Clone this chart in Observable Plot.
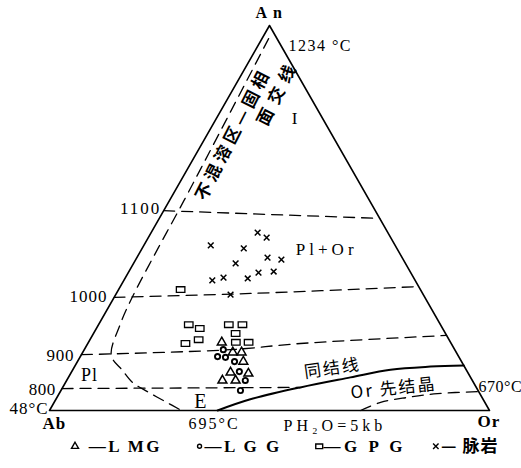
<!DOCTYPE html>
<html>
<head>
<meta charset="utf-8">
<script src="https://cdn.jsdelivr.net/npm/d3@7"></script>
<script src="https://cdn.jsdelivr.net/npm/@observablehq/plot@0.6"></script>
<style>
  html, body { margin: 0; padding: 0; background: #fff; }
  svg { display: block; }
</style>
</head>
<body>
<div id="chart"></div>
<script>
// ---- Data: compositions as [An %, Or %] (Ab = 100 - An - Or) ----
const frame = [[0, 0], [100, 0], [0, 100], [0, 0]];

const lmg = [[17.7, 30.3], [15.1, 34.1], [15.1, 36.1], [12.7, 37.7], [9.9, 36.2], [9.6, 40.4], [7.8, 35.4], [7.8, 38.4]];
const lgg = [[15.8, 31.6], [14.0, 31.2], [13.8, 33.1], [12.7, 35.7], [10.1, 38.1], [7.8, 40.6], [5.2, 40.8]];
const gpg = [[22.3, 20.5], [21.3, 23.5], [22.3, 29.6], [22.3, 32.7], [20.0, 32.3], [18.4, 24.7], [17.4, 22.2], [17.7, 33.5], [17.7, 36.4], [31.4, 14.1]];
const dyke = [[46.2, 24.2], [44.9, 26.9], [42.9, 15.2], [42.1, 23.1], [39.7, 29.7], [39.2, 33.1], [38.2, 23.2], [35.8, 29.6], [36.1, 32.9], [34.5, 22.3], [33.8, 20.1], [34.3, 27.9], [30.1, 26.1]];

const iso1100 = [[51.9, 0], [49.9, 50.1]];
const iso1000 = [[29.4, 0], [30.4, 30.5], [32.2, 67.8]];
const iso900 = [[14.5, 0], [15.8, 33.2], [17.4, 48.3], [19.5, 80.5]];
const iso800 = [[5.7, 0], [6.0, 54.0]];
const cotectic = [[0, 38.2], [2.9, 44.2], [6.0, 54.0], [8.6, 64.1], [10.6, 72.2], [11.4, 80.9], [11.7, 88.3]];
const orField = [[0, 70.7], [2.1, 74.2], [3.4, 79.7], [4.4, 86.0], [4.9, 95.1]];
const plBoundary = [[96.6, 1.5], [54.5, 3.3], [42.3, 3.6], [29.4, 4.1], [22.3, 4.9], [14.3, 6.9], [10.4, 11.4], [7.3, 15.2], [4.9, 19.8], [2.3, 25.2], [0, 30.0]];

// ---- Labels: position in diagram units [x, y] ----
const labelText = ["An", "1234 °C", "I", "Pl+Or", "1100", "1000", "900", "800", "48°C", "Ab", "Pl", "E", "695°C", "PH₂O=5kb", "Or", "670°C"];
const labelPos = [[50.5, 103.4], [54.3, 94.8], [55.7, 75.8], [63.0, 41.8], [25.4, 52.5], [13.2, 29.6], [5.6, 14.3], [1.4, 5.5], [-0.2, 0.4], [-1.6, -3.3], [9.1, 9.1], [34.3, 2.3], [31.6, -3.4], [53.2, -3.9], [97.3, -2.9], [97.5, 6.2]];
const labelAnchor = ["middle", "start", "middle", "middle", "end", "end", "end", "end", "end", "start", "middle", "middle", "start", "start", "start", "start"];
const labelSize = [16, 16, 17, 17, 17, 17, 17, 17, 17, 17, 18, 20, 16, 16, 17, 16];
const labelSpacing = [6, 1.5, 0, 4, 2, 1, 0.7, 0.5, 1, 1, 1, 0, 2, 4, 1, 0.5];

const cnText = ["不混溶区—固相", "面交线", "同结线", "Or 先结晶"];
const cnPos = [[41.8, 71.7], [52.0, 82.6], [64.3, 10.9], [78.2, 5.7]];
const cnRotate = [-63, -63, -8, -6];
const cnSpacing = [4, 7, 2, 2];

const legendSymbols = ["triangle", "circle", "rect", "times"];
const legendPos = [[5.8, -9.3], [34.1, -9.3], [61.3, -9.3], [87.8, -9.3]];
const legendText = ["—L MG", "—L G G", "—G P G", "— 脉岩"];
const legendTextPos = [[8.9, -9.3], [35.2, -9.3], [62.3, -9.3], [89.0, -9.3]];
const legendSpacing = [2.5, 2.5, 3.5, 1];

// ---- helpers ----
const toXY = ([an, or]) => ({x: or + an / 2, y: an});
const pts = arr => arr.map(toXY);

const wideRect = {
  draw(ctx, size) {
    const s = Math.sqrt(size);
    const w = s * 0.75, h = s * 0.5;
    ctx.rect(-w, -h, 2 * w, 2 * h);
  }
};
const symMap = {triangle: "triangle", circle: "circle", rect: wideRect, times: "times"};

const serif = "'Liberation Serif', 'DejaVu Serif', serif";
const cjk = "'Noto Sans CJK SC', 'Liberation Serif', sans-serif";
const dash = "11,7";

const marks = [
  Plot.line(pts(frame), {x: "x", y: "y", stroke: "#000", strokeWidth: 1.6}),
  Plot.line(pts(iso1100), {x: "x", y: "y", stroke: "#000", strokeWidth: 1.3, strokeDasharray: dash}),
  Plot.line(pts(iso1000), {x: "x", y: "y", stroke: "#000", strokeWidth: 1.3, strokeDasharray: dash, curve: "catmull-rom"}),
  Plot.line(pts(iso900), {x: "x", y: "y", stroke: "#000", strokeWidth: 1.3, strokeDasharray: dash, curve: "catmull-rom"}),
  Plot.line(pts(iso800), {x: "x", y: "y", stroke: "#000", strokeWidth: 1.3, strokeDasharray: dash}),
  Plot.line(pts(orField), {x: "x", y: "y", stroke: "#000", strokeWidth: 1.3, strokeDasharray: dash, curve: "catmull-rom"}),
  Plot.line(pts(plBoundary), {x: "x", y: "y", stroke: "#000", strokeWidth: 1.3, strokeDasharray: dash, curve: "catmull-rom"}),
  Plot.line(pts(cotectic), {x: "x", y: "y", stroke: "#000", strokeWidth: 2, curve: "catmull-rom"}),
  Plot.dot(pts(lmg), {x: "x", y: "y", symbol: "triangle", r: 3.3, stroke: "#000", strokeWidth: 1.5, fill: "none"}),
  Plot.dot(pts(lgg), {x: "x", y: "y", symbol: "circle", r: 2.6, stroke: "#000", strokeWidth: 1.9, fill: "none"}),
  Plot.dot(pts(gpg), {x: "x", y: "y", symbol: wideRect, r: 3.2, stroke: "#000", strokeWidth: 1.3, fill: "none"}),
  Plot.dot(pts(dyke), {x: "x", y: "y", symbol: "times", r: 2.7, stroke: "#000", strokeWidth: 1.5}),
  ...labelText.map((t, i) => Plot.text([t], {
    x: () => labelPos[i][0], y: () => labelPos[i][1], text: d => d,
    textAnchor: labelAnchor[i], fontSize: labelSize[i], fontFamily: serif, fill: "#000",
    fontWeight: t === "An" || t === "Or" || t === "Ab" ? "bold" : "normal"
  })),
  ...cnText.map((t, i) => Plot.text([t], {
    x: () => cnPos[i][0], y: () => cnPos[i][1], text: d => d,
    rotate: cnRotate[i], fontSize: 17, fontFamily: cjk, fontWeight: i < 2 ? "bold" : "normal", fill: "#000"
  })),
  ...legendSymbols.map((s, i) => Plot.dot([s], {
    x: () => legendPos[i][0], y: () => legendPos[i][1],
    symbol: symMap[s], r: s === "circle" ? 2 : 2.6, stroke: "#000", strokeWidth: 1.4, fill: "none"
  })),
  ...legendText.map((t, i) => Plot.text([t], {
    x: () => legendTextPos[i][0], y: () => legendTextPos[i][1], text: d => d,
    textAnchor: "start", fontSize: 17, fontFamily: i === 3 ? cjk : serif, fontWeight: "bold", fill: "#000"
  }))
];

const chart = Plot.plot({
  width: 521,
  height: 468,
  marginLeft: 49,
  marginRight: 32,
  marginTop: 25,
  marginBottom: 58,
  x: {domain: [0, 100], axis: null},
  y: {domain: [0, 100], axis: null},
  style: {fontFamily: serif, background: "#fff", color: "#000"},
  marks
});

// letter spacing (typeset look of the original)
const spacing = new Map();
labelText.forEach((t, i) => spacing.set(t, labelSpacing[i]));
cnText.forEach((t, i) => spacing.set(t, cnSpacing[i]));
legendText.forEach((t, i) => spacing.set(t, legendSpacing[i]));
chart.querySelectorAll("text").forEach(el => {
  const s = spacing.get(el.textContent);
  if (s) el.setAttribute("letter-spacing", s + "px");
});

document.getElementById("chart").appendChild(chart);
</script>
</body>
</html>
